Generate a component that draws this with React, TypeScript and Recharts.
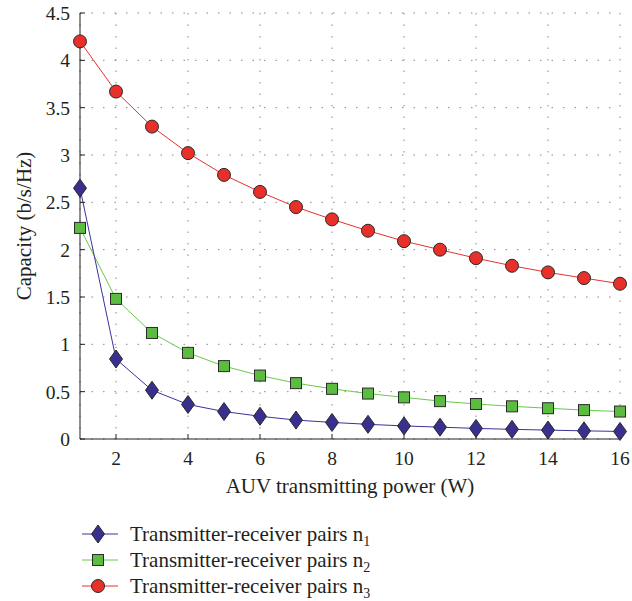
import { LineChart, Line, XAxis, YAxis, CartesianGrid, Legend } from "recharts"

const powers = [1, 2, 3, 4, 5, 6, 7, 8, 9, 10, 11, 12, 13, 14, 15, 16]
const pairsN1 = [2.65, 0.845, 0.515, 0.365, 0.29, 0.24, 0.2, 0.175, 0.155, 0.138, 0.125, 0.112, 0.102, 0.094, 0.086, 0.08]
const pairsN2 = [2.23, 1.48, 1.12, 0.91, 0.77, 0.67, 0.59, 0.53, 0.48, 0.44, 0.4, 0.37, 0.345, 0.325, 0.305, 0.29]
const pairsN3 = [4.2, 3.67, 3.3, 3.02, 2.79, 2.61, 2.45, 2.32, 2.2, 2.09, 2.0, 1.91, 1.83, 1.76, 1.7, 1.64]
const xTicks = [2, 4, 6, 8, 10, 12, 14, 16]
const yTicks = [0, 0.5, 1, 1.5, 2, 2.5, 3, 3.5, 4, 4.5]

const data = powers.map((p, i) => ({ p, n1: pairsN1[i], n2: pairsN2[i], n3: pairsN3[i] }))

const FONT = "Liberation Serif"
const TXT = "#231f20"
const FS = 21
const TICK_FS = 19.5

type Shape = "diamond" | "square" | "circle"

const series: { key: string; sub: string; line: string; fill: string; shape: Shape }[] = [
  { key: "n1", sub: "1", line: "#3b3299", fill: "#392f8e", shape: "diamond" },
  { key: "n2", sub: "2", line: "#6cc84c", fill: "#5cbc40", shape: "square" },
  { key: "n3", sub: "3", line: "#e8312a", fill: "#e8302a", shape: "circle" },
]

function Marker({ shape, cx, cy, fill }: { shape: Shape; cx: number; cy: number; fill: string }) {
  const stroke = "#2a2a2a"
  if (shape === "diamond")
    return <polygon points={`${cx},${cy - 9} ${cx + 6.5},${cy} ${cx},${cy + 9} ${cx - 6.5},${cy}`} fill={fill} stroke={stroke} strokeWidth={1} />
  if (shape === "square")
    return <rect x={cx - 5.5} y={cy - 5.5} width={11} height={11} fill={fill} stroke={stroke} strokeWidth={1} />
  return <circle cx={cx} cy={cy} r={6.5} fill={fill} stroke={stroke} strokeWidth={1} />
}

const renderLegend = () => (
  <div style={{ fontFamily: FONT, fontSize: FS, color: TXT, lineHeight: "26px" }}>
    {series.map((s) => (
      <div key={s.key} style={{ display: "flex", alignItems: "center", height: 26 }}>
        <svg width={36} height={26} style={{ marginRight: 12 }}>
          <line x1={0} y1={13} x2={36} y2={13} stroke={s.line} strokeWidth={1} />
          <Marker shape={s.shape} cx={16} cy={13} fill={s.fill} />
        </svg>
        <span>
          Transmitter-receiver pairs n<sub style={{ fontSize: 14, lineHeight: 0 }}>{s.sub}</sub>
        </span>
      </div>
    ))}
  </div>
)

const tickStyle = { fill: TXT, fontSize: TICK_FS, fontFamily: FONT }

export default function App() {
  return (
    <div style={{ position: "absolute", left: 0, top: 0, background: "#fff", fontFamily: FONT }}>
      <LineChart
        width={632}
        height={601}
        data={data}
        margin={{ top: 13, right: 12, bottom: 97, left: 0 }}
      >
        <CartesianGrid stroke="#888" strokeDasharray="1.5 10" />
        <XAxis
          dataKey="p"
          type="number"
          domain={[1, 16]}
          ticks={xTicks}
          height={65}
          stroke="#231f20"
          tickSize={-5}
          tickMargin={17}
          tick={tickStyle}
          label={{
            content: () => (
              <text x={350} y={493} textAnchor="middle" fill={TXT} fontSize={FS} fontFamily={FONT}>
                AUV transmitting power (W)
              </text>
            ),
          }}
        />
        <XAxis xAxisId="top" dataKey="p" type="number" domain={[1, 16]} ticks={xTicks} orientation="top" height={0} stroke="#231f20" tickSize={-5} tickFormatter={() => ""} />
        <YAxis
          domain={[0, 4.5]}
          ticks={yTicks}
          width={80}
          stroke="#231f20"
          tickSize={-5}
          tickMargin={15}
          tick={tickStyle}
          label={{
            content: () => (
              <text x={24} y={226} transform="rotate(-90 24 226)" textAnchor="middle" dominantBaseline="central" fill={TXT} fontSize={FS} fontFamily={FONT}>
                Capacity (b/s/Hz)
              </text>
            ),
          }}
        />
        <YAxis yAxisId="right" orientation="right" domain={[0, 4.5]} ticks={yTicks} width={0} stroke="#231f20" tickSize={-5} tickFormatter={() => ""} />
        {series
          .slice()
          .reverse()
          .map((s) => (
            <Line
              key={s.key}
              dataKey={s.key}
              stroke={s.line}
              strokeWidth={1}
              isAnimationActive={false}
              dot={(props: any) => <Marker key={`${s.key}-${props.index}`} shape={s.shape} cx={props.cx} cy={props.cy} fill={s.fill} />}
              activeDot={false}
            />
          ))}
        <Legend
          layout="vertical"
          align="center"
          verticalAlign="middle"
          content={renderLegend}
          wrapperStyle={{ position: "absolute", left: 82, top: 521, width: "auto" }}
        />
      </LineChart>
    </div>
  )
}
